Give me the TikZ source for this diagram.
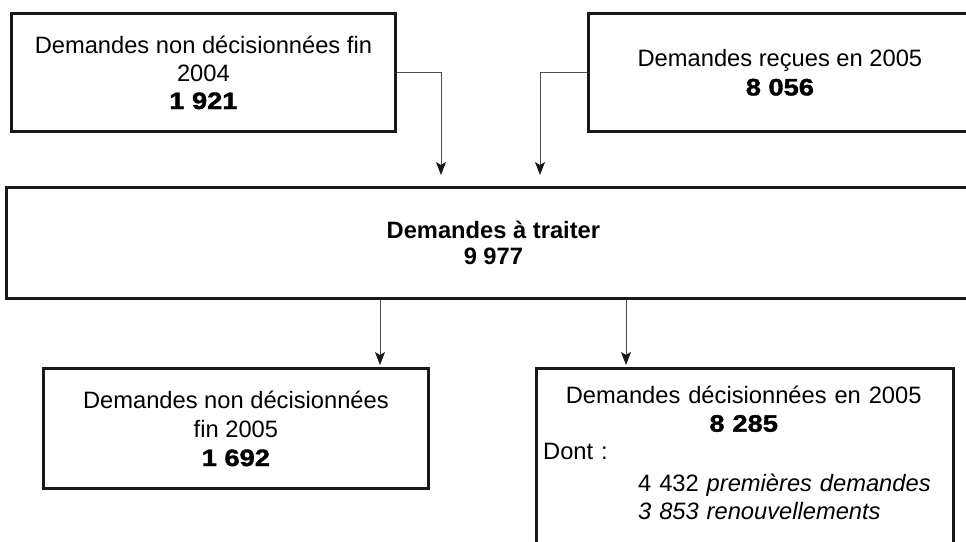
\documentclass[tikz,border=0pt]{standalone}
\usepackage{fontspec}
\setmainfont{Liberation Sans}
\newfontfamily\numfont[FakeStretch=1.15,FakeBold=1.6]{Liberation Sans Bold}
\usetikzlibrary{arrows.meta}
\tikzset{
  box/.style={draw=black!90, line width=2.8pt, anchor=north west, inner sep=0pt, align=center, font=\fontsize{23.7}{28}\selectfont},
  conn/.style={draw=black!70, line width=1pt, -{Stealth[length=13pt,width=10pt,inset=3pt,black!90]}},
}
\begin{document}
\begin{tikzpicture}[x=1pt,y=-1pt]
\useasboundingbox (0,0) rectangle (966,541);
\clip (0,0) rectangle (966,541);
\fill[white] (0,0) rectangle (966,541);

\node[box, minimum width=384pt, minimum height=118pt] (A) at (10,12)
  {Demandes non décisionnées fin\\2004\\{\numfont 1 921}};
\node[box, minimum width=383pt, minimum height=118pt, font=\fontsize{23.7}{29}\selectfont] (B) at (587,12)
  {Demandes reçues en 2005\\{\numfont 8 056}};
\node[box, minimum width=974pt, minimum height=111pt, font=\fontsize{23.7}{26}\selectfont\bfseries] (C) at (5,186)
  {Demandes à traiter\\9 977};
\node[box, minimum width=385pt, minimum height=120pt, font=\fontsize{23.7}{29}\selectfont] (D) at (42,367)
  {Demandes non décisionnées\\fin 2005\\{\numfont 1 692}};
\node[box, minimum width=417pt, minimum height=220pt] (E) at (535,367) {};
\node[anchor=north west, inner sep=0pt, text width=401pt, font=\fontsize{23.7}{28}\selectfont] (Et) at (543,386)
  {\parindent=0pt{\centering Demandes décisionnées en 2005\\{\numfont 8 285}\par}%
   \raggedright Dont :\\[4pt]
   \hspace*{95pt}4 432 \textit{premières demandes}\\
   \hspace*{95pt}\textit{3 853 renouvellements}\par};

\coordinate (a1) at (441,175);
\coordinate (a2) at (540,175);
\coordinate (d1) at (380,365);
\coordinate (d2) at (626,365);

\draw[conn] (A.east) -| (a1);
\draw[conn] (B.west) -| (a2);
\draw[conn] (d1 |- C.south) -- (d1);
\draw[conn] (d2 |- C.south) -- (d2);
\end{tikzpicture}
\end{document}
